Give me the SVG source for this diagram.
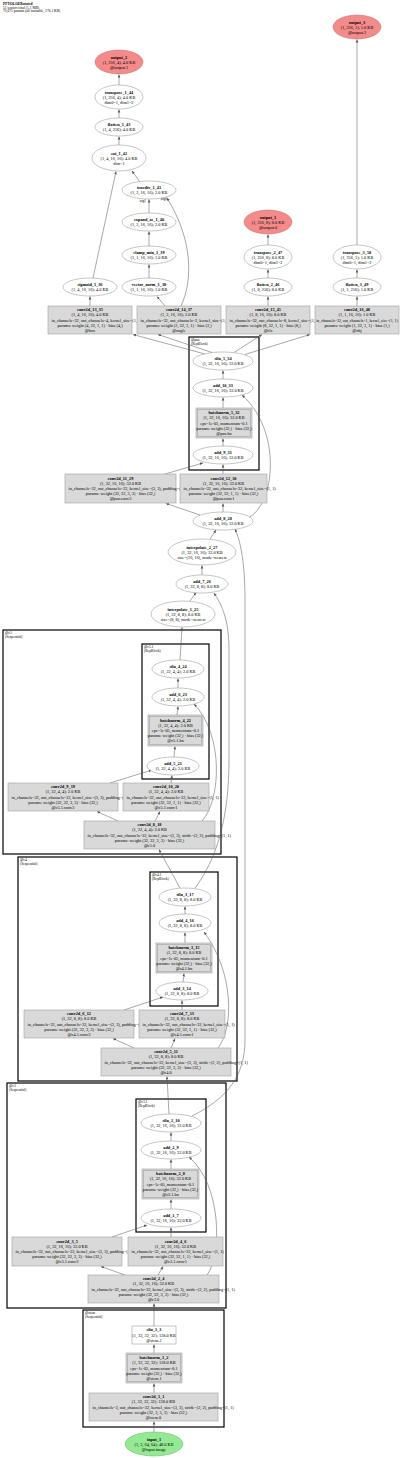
<svg xmlns="http://www.w3.org/2000/svg" width="400" height="1458" viewBox="0 0 400 1458">
<style>
.e{fill:#fff;stroke:#8c8c8c;stroke-width:0.5}
.c{fill:#d9d9d9;stroke:#a0a0a0;stroke-width:0.6}
.w{fill:#fff;stroke:#8c8c8c;stroke-width:0.5}
.o{fill:#f48a8a;stroke:#b86a6a;stroke-width:0.5}
.i{fill:#93ea93;stroke:#6aa86a;stroke-width:0.5}
.cl{fill:none;stroke:#000;stroke-width:1.2}
.t{font-family:"Liberation Serif",serif;font-size:4.3px;text-anchor:middle;fill:#000}
.s{text-anchor:start}
.b{font-weight:bold}
.lb{font-family:"Liberation Serif",serif;font-size:3.6px;fill:#000}
.ed path{stroke:#505050;stroke-width:0.5;fill:none;marker-end:url(#a)}
</style>
<defs>
<marker id="a" markerWidth="4" markerHeight="4" refX="3" refY="2" orient="auto" markerUnits="userSpaceOnUse"><path d="M0,0.7 L3,2 L0,3.3z" fill="#505050"/></marker>
</defs>
<rect width="400" height="1458" fill="#fff"/>
<g id="header">
<text class="lb b" x="3" y="4.8">PPYOLOERotated</text>
<text class="lb" x="3" y="8.6">51 tensors total (1.1 MB)</text>
<text class="lb" x="3" y="12.4">70,671 params (all trainable, 276.1 KB)</text>
</g>
<g id="clusters">
<g id="cl_pan"><rect class="cl" x="189" y="337" width="70" height="133"/><text class="lb" x="191" y="341">@pan</text><text class="lb" x="191" y="344.8">(RepBlock)</text></g>
<g id="cl_c5"><rect class="cl" x="3" y="630" width="218" height="224"/><text class="lb" x="5" y="634">@c5</text><text class="lb" x="5" y="637.8">(Sequential)</text></g>
<g id="cl_c5_1"><rect class="cl" x="142" y="644" width="67" height="135"/><text class="lb" x="144" y="648">@c5.1</text><text class="lb" x="144" y="651.8">(RepBlock)</text></g>
<g id="cl_c4"><rect class="cl" x="18" y="857" width="219" height="224"/><text class="lb" x="20" y="861">@c4</text><text class="lb" x="20" y="864.8">(Sequential)</text></g>
<g id="cl_c4_1"><rect class="cl" x="150" y="872" width="68" height="134"/><text class="lb" x="152" y="876">@c4.1</text><text class="lb" x="152" y="879.8">(RepBlock)</text></g>
<g id="cl_c3"><rect class="cl" x="7" y="1083" width="219" height="225"/><text class="lb" x="9" y="1087">@c3</text><text class="lb" x="9" y="1090.8">(Sequential)</text></g>
<g id="cl_c3_1"><rect class="cl" x="136" y="1099" width="70" height="133"/><text class="lb" x="138" y="1103">@c3.1</text><text class="lb" x="138" y="1106.8">(RepBlock)</text></g>
<g id="cl_stem"><rect class="cl" x="83" y="1310" width="141" height="117"/><text class="lb" x="85" y="1314">@stem</text><text class="lb" x="85" y="1317.8">(Sequential)</text></g>
</g>
<g id="connectors" class="ed">
<path d="M154,1432 L154,1421.5"/>
<path d="M154,1393 L154,1383.5"/>
<path d="M154,1353 L154,1344.5"/>
<path d="M154,1326 L154,1303.5"/>
<path d="M125,1275 L101,1266.5"/>
<path d="M158,1275 L163,1266.5"/>
<path d="M207,1275 C222,1255 222,1185 189,1157"/>
<path d="M112,1237 L147,1225"/>
<path d="M171,1237 L171,1227.5"/>
<path d="M171,1209 L171,1199.5"/>
<path d="M171,1169 L171,1159.5"/>
<path d="M171,1141 L171,1132.5"/>
<path d="M169,1114 L167,1076.5"/>
<path d="M192,1116 C228,1098 245,1075 245,1040 L245,600 C245,565 241,542 235,529"/>
<path d="M134,1048 L113,1038.5"/>
<path d="M171,1048 L175,1038.5"/>
<path d="M218,1048 C234,1028 234,972 204,932"/>
<path d="M124,1010 L163,997"/>
<path d="M182,1010 L182,1000.5"/>
<path d="M183,982 L184,973.5"/>
<path d="M185,943 L185,932.5"/>
<path d="M185,914 L185,906.5"/>
<path d="M180,888 L159,849.5"/>
<path d="M195,888 C216,860 229,820 229,760 L229,650 C229,620 222,605 214,593"/>
<path d="M118,821 L97,811.5"/>
<path d="M155,821 L160,811.5"/>
<path d="M202,821 C221,800 224,735 194,704"/>
<path d="M110,783 L152,770"/>
<path d="M171,783 L172,775.5"/>
<path d="M174,757 L175,746.5"/>
<path d="M177,715 L178,706.5"/>
<path d="M178,688 L178,678.5"/>
<path d="M180,660 L182,627.5"/>
<path d="M190,601 L196,592.5"/>
<path d="M202,575 L202,565.5"/>
<path d="M210,539 L216,530"/>
<path d="M200,515 L166,503.5"/>
<path d="M223,512 L223,503.5"/>
<path d="M250,517 C276,500 281,430 242,395"/>
<path d="M165,474 L203,463"/>
<path d="M223,474 L223,464.5"/>
<path d="M223,446 L223,438.5"/>
<path d="M223,408 L223,397.5"/>
<path d="M223,379 L223,370.5"/>
<path d="M205,354 L133,334.5"/>
<path d="M212,352.5 L158,334.5"/>
<path d="M234,352.5 L262,334.5"/>
<path d="M245,354.5 L310,334.5"/>
<path d="M90,306 L90,296.5"/>
<path d="M165,306 L157,296.5"/>
<path d="M181,306 C193,280 193,240 167,198"/>
<path d="M149,278 L149,264.5"/>
<path d="M149,246 L149,231.5"/>
<path d="M149,213 L149,199.5"/>
<path d="M140,182 L132,171"/>
<path d="M93,278 L116,171.5"/>
<path d="M119,145 L119,136.5"/>
<path d="M119,118 L119,109.5"/>
<path d="M119,85 L119,74.5"/>
<path d="M268,306 L268,296.5"/>
<path d="M268,278 L268,269.5"/>
<path d="M268,245 L268,234.5"/>
<path d="M357,306 L357,296.5"/>
<path d="M357,278 L357,269.5"/>
<path d="M357,245 L357,39.5"/>
<text class="lb" x="143" y="201.5" style="text-anchor:middle">arg1</text>
<text class="lb" x="164" y="199.5" style="text-anchor:middle">arg0</text>
</g>
<g id="output_3"><ellipse class="o" cx="357" cy="27" rx="24" ry="12"/><text class="t b" x="357" y="23.5">output_3</text><text class="t" x="357" y="28.5">(1, 256, 1); 1.0 KB</text><text class="t" x="357" y="33.5">@output.2</text></g>
<g id="output_2"><ellipse class="o" cx="119" cy="62" rx="24" ry="12"/><text class="t b" x="119" y="58.5">output_2</text><text class="t" x="119" y="63.5">(1, 256, 4); 4.0 KB</text><text class="t" x="119" y="68.5">@output.1</text></g>
<g id="transpose_1_44"><ellipse class="e" cx="119" cy="97" rx="24" ry="12"/><text class="t b" x="119" y="93.5">transpose_1_44</text><text class="t" x="119" y="98.5">(1, 256, 4); 4.0 KB</text><text class="t" x="119" y="103.5">dim0=1, dim1=2</text></g>
<g id="flatten_1_43"><ellipse class="e" cx="119" cy="127" rx="24" ry="9"/><text class="t b" x="119" y="125.8">flatten_1_43</text><text class="t" x="119" y="131.2">(1, 4, 256); 4.0 KB</text></g>
<g id="cat_1_42"><ellipse class="e" cx="119" cy="158" rx="27" ry="13"/><text class="t b" x="119" y="154.5">cat_1_42</text><text class="t" x="119" y="159.5">(1, 4, 16, 16); 4.0 KB</text><text class="t" x="119" y="164.5">dim=1</text></g>
<g id="truediv_1_41"><ellipse class="e" cx="149" cy="190" rx="27" ry="9"/><text class="t b" x="149" y="188.8">truediv_1_41</text><text class="t" x="149" y="194.2">(1, 2, 16, 16); 2.0 KB</text></g>
<g id="expand_as_1_40"><ellipse class="e" cx="149" cy="222" rx="27" ry="9"/><text class="t b" x="149" y="220.8">expand_as_1_40</text><text class="t" x="149" y="226.2">(1, 2, 16, 16); 2.0 KB</text></g>
<g id="output_1"><ellipse class="o" cx="268" cy="222" rx="24" ry="12"/><text class="t b" x="268" y="218.5">output_1</text><text class="t" x="268" y="223.5">(1, 256, 8); 8.0 KB</text><text class="t" x="268" y="228.5">@output.0</text></g>
<g id="clamp_min_1_39"><ellipse class="e" cx="149" cy="255" rx="27" ry="9"/><text class="t b" x="149" y="253.8">clamp_min_1_39</text><text class="t" x="149" y="259.2">(1, 1, 16, 16); 1.0 KB</text></g>
<g id="transpose_2_47"><ellipse class="e" cx="268" cy="257" rx="24" ry="12"/><text class="t b" x="268" y="253.5">transpose_2_47</text><text class="t" x="268" y="258.5">(1, 256, 8); 8.0 KB</text><text class="t" x="268" y="263.5">dim0=1, dim1=2</text></g>
<g id="transpose_3_50"><ellipse class="e" cx="357" cy="257" rx="24" ry="12"/><text class="t b" x="357" y="253.5">transpose_3_50</text><text class="t" x="357" y="258.5">(1, 256, 1); 1.0 KB</text><text class="t" x="357" y="263.5">dim0=1, dim1=2</text></g>
<g id="sigmoid_1_36"><ellipse class="e" cx="90" cy="287" rx="27" ry="9"/><text class="t b" x="90" y="285.8">sigmoid_1_36</text><text class="t" x="90" y="291.2">(1, 4, 16, 16); 4.0 KB</text></g>
<g id="vector_norm_1_38"><ellipse class="e" cx="149" cy="287" rx="27" ry="9"/><text class="t b" x="149" y="285.8">vector_norm_1_38</text><text class="t" x="149" y="291.2">(1, 1, 16, 16); 1.0 KB</text></g>
<g id="flatten_2_46"><ellipse class="e" cx="268" cy="287" rx="24" ry="9"/><text class="t b" x="268" y="285.8">flatten_2_46</text><text class="t" x="268" y="291.2">(1, 8, 256); 8.0 KB</text></g>
<g id="flatten_3_49"><ellipse class="e" cx="357" cy="287" rx="24" ry="9"/><text class="t b" x="357" y="285.8">flatten_3_49</text><text class="t" x="357" y="291.2">(1, 1, 256); 1.0 KB</text></g>
<g id="conv2d_13_35"><rect class="c" x="48" y="306" width="84" height="28"/><text class="t b" x="90" y="311.1">conv2d_13_35</text><text class="t" x="90" y="316.3">(1, 4, 16, 16); 4.0 KB</text><text class="t s" x="51.5" y="321.5">in_channels=32, out_channels=4, kernel_size=(1, 1)</text><text class="t" x="90" y="326.7">params: weight (4, 32, 1, 1) · bias (4,)</text><text class="t" x="90" y="331.9">@box</text></g>
<g id="conv2d_14_37"><rect class="c" x="137" y="306" width="84" height="28"/><text class="t b" x="179" y="311.1">conv2d_14_37</text><text class="t" x="179" y="316.3">(1, 2, 16, 16); 2.0 KB</text><text class="t s" x="140.5" y="321.5">in_channels=32, out_channels=2, kernel_size=(1, 1)</text><text class="t" x="179" y="326.7">params: weight (2, 32, 1, 1) · bias (2,)</text><text class="t" x="179" y="331.9">@angle</text></g>
<g id="conv2d_15_45"><rect class="c" x="226" y="306" width="84" height="28"/><text class="t b" x="268" y="311.1">conv2d_15_45</text><text class="t" x="268" y="316.3">(1, 8, 16, 16); 8.0 KB</text><text class="t s" x="229.5" y="321.5">in_channels=32, out_channels=8, kernel_size=(1, 1)</text><text class="t" x="268" y="326.7">params: weight (8, 32, 1, 1) · bias (8,)</text><text class="t" x="268" y="331.9">@cls</text></g>
<g id="conv2d_16_48"><rect class="c" x="315" y="306" width="84" height="28"/><text class="t b" x="357" y="311.1">conv2d_16_48</text><text class="t" x="357" y="316.3">(1, 1, 16, 16); 1.0 KB</text><text class="t" x="357" y="321.5" style="font-size:3.9px">in_channels=32, out_channels=1, kernel_size=(1, 1)</text><text class="t" x="357" y="326.7">params: weight (1, 32, 1, 1) · bias (1,)</text><text class="t" x="357" y="331.9">@obj</text></g>
<g id="silu_5_34"><ellipse class="e" cx="223" cy="361" rx="30" ry="9"/><text class="t b" x="223" y="359.8">silu_5_34</text><text class="t" x="223" y="365.2">(1, 32, 16, 16); 32.0 KB</text></g>
<g id="add_10_33"><ellipse class="e" cx="223" cy="388" rx="30" ry="9"/><text class="t b" x="223" y="386.8">add_10_33</text><text class="t" x="223" y="392.2">(1, 32, 16, 16); 32.0 KB</text></g>
<g id="batchnorm_5_32"><rect class="c" x="196" y="408" width="56" height="30"/><rect class="c" x="197.5" y="409.5" width="53" height="27"/><text class="t b" x="224" y="414.1">batchnorm_5_32</text><text class="t" x="224" y="419.3">(1, 32, 16, 16); 32.0 KB</text><text class="t" x="224" y="424.5">eps=1e-05, momentum=0.1</text><text class="t" x="224" y="429.7">params: weight (32,) · bias (32,)</text><text class="t" x="224" y="434.9">@pan.bn</text></g>
<g id="add_9_31"><ellipse class="e" cx="223" cy="455" rx="30" ry="9"/><text class="t b" x="223" y="453.8">add_9_31</text><text class="t" x="223" y="459.2">(1, 32, 16, 16); 32.0 KB</text></g>
<g id="conv2d_11_29"><rect class="c" x="65" y="474" width="111" height="29"/><text class="t b" x="120.5" y="479.6">conv2d_11_29</text><text class="t" x="120.5" y="484.8">(1, 32, 16, 16); 32.0 KB</text><text class="t s" x="68.5" y="490">in_channels=32, out_channels=32, kernel_size=(3, 3), padding=(1, 1)</text><text class="t" x="120.5" y="495.2">params: weight (32, 32, 3, 3) · bias (32,)</text><text class="t" x="120.5" y="500.4">@pan.conv3</text></g>
<g id="conv2d_12_30"><rect class="c" x="180" y="474" width="87" height="29"/><text class="t b" x="223.5" y="479.6">conv2d_12_30</text><text class="t" x="223.5" y="484.8">(1, 32, 16, 16); 32.0 KB</text><text class="t s" x="183.5" y="490">in_channels=32, out_channels=32, kernel_size=(1, 1)</text><text class="t" x="223.5" y="495.2">params: weight (32, 32, 1, 1) · bias (32,)</text><text class="t" x="223.5" y="500.4">@pan.conv1</text></g>
<g id="add_8_28"><ellipse class="e" cx="223" cy="521" rx="30" ry="9"/><text class="t b" x="223" y="519.8">add_8_28</text><text class="t" x="223" y="525.2">(1, 32, 16, 16); 32.0 KB</text></g>
<g id="interpolate_2_27"><ellipse class="e" cx="202" cy="552" rx="34" ry="13"/><text class="t b" x="202" y="548.5">interpolate_2_27</text><text class="t" x="202" y="553.5">(1, 32, 16, 16); 32.0 KB</text><text class="t" x="202" y="558.5">size=(16, 16), mode=nearest</text></g>
<g id="add_7_26"><ellipse class="e" cx="202" cy="584" rx="26" ry="9"/><text class="t b" x="202" y="582.8">add_7_26</text><text class="t" x="202" y="588.2">(1, 32, 8, 8); 8.0 KB</text></g>
<g id="interpolate_1_25"><ellipse class="e" cx="183" cy="614" rx="32" ry="13"/><text class="t b" x="183" y="610.5">interpolate_1_25</text><text class="t" x="183" y="615.5">(1, 32, 8, 8); 8.0 KB</text><text class="t" x="183" y="620.5">size=(8, 8), mode=nearest</text></g>
<g id="silu_4_24"><ellipse class="e" cx="178" cy="669" rx="26" ry="9"/><text class="t b" x="178" y="667.8">silu_4_24</text><text class="t" x="178" y="673.2">(1, 32, 4, 4); 2.0 KB</text></g>
<g id="add_6_23"><ellipse class="e" cx="178" cy="697" rx="26" ry="9"/><text class="t b" x="178" y="695.8">add_6_23</text><text class="t" x="178" y="701.2">(1, 32, 4, 4); 2.0 KB</text></g>
<g id="batchnorm_4_22"><rect class="c" x="148" y="715" width="55" height="31"/><rect class="c" x="149.5" y="716.5" width="52" height="28"/><text class="t b" x="175.5" y="721.6">batchnorm_4_22</text><text class="t" x="175.5" y="726.8">(1, 32, 4, 4); 2.0 KB</text><text class="t" x="175.5" y="732">eps=1e-05, momentum=0.1</text><text class="t" x="175.5" y="737.2">params: weight (32,) · bias (32,)</text><text class="t" x="175.5" y="742.4">@c5.1.bn</text></g>
<g id="add_5_21"><ellipse class="e" cx="173" cy="766" rx="26" ry="9"/><text class="t b" x="173" y="764.8">add_5_21</text><text class="t" x="173" y="770.2">(1, 32, 4, 4); 2.0 KB</text></g>
<g id="conv2d_9_19"><rect class="c" x="8" y="783" width="110" height="28"/><text class="t b" x="63" y="788.1">conv2d_9_19</text><text class="t" x="63" y="793.3">(1, 32, 4, 4); 2.0 KB</text><text class="t s" x="11.5" y="798.5">in_channels=32, out_channels=32, kernel_size=(3, 3), padding=(1, 1)</text><text class="t" x="63" y="803.7">params: weight (32, 32, 3, 3) · bias (32,)</text><text class="t" x="63" y="808.9">@c5.1.conv3</text></g>
<g id="conv2d_10_20"><rect class="c" x="123" y="783" width="86" height="28"/><text class="t b" x="166" y="788.1">conv2d_10_20</text><text class="t" x="166" y="793.3">(1, 32, 4, 4); 2.0 KB</text><text class="t s" x="126.5" y="798.5">in_channels=32, out_channels=32, kernel_size=(1, 1)</text><text class="t" x="166" y="803.7">params: weight (32, 32, 1, 1) · bias (32,)</text><text class="t" x="166" y="808.9">@c5.1.conv1</text></g>
<g id="conv2d_8_18"><rect class="c" x="84" y="821" width="131" height="28"/><text class="t b" x="149.5" y="826.1">conv2d_8_18</text><text class="t" x="149.5" y="831.3">(1, 32, 4, 4); 2.0 KB</text><text class="t s" x="87.5" y="836.5">in_channels=32, out_channels=32, kernel_size=(3, 3), stride=(2, 2), padding=(1, 1)</text><text class="t" x="149.5" y="841.7">params: weight (32, 32, 3, 3) · bias (32,)</text><text class="t" x="149.5" y="846.9">@c5.0</text></g>
<g id="silu_3_17"><ellipse class="e" cx="185" cy="897" rx="26" ry="9"/><text class="t b" x="185" y="895.8">silu_3_17</text><text class="t" x="185" y="901.2">(1, 32, 8, 8); 8.0 KB</text></g>
<g id="add_4_16"><ellipse class="e" cx="185" cy="923" rx="26" ry="9"/><text class="t b" x="185" y="921.8">add_4_16</text><text class="t" x="185" y="927.2">(1, 32, 8, 8); 8.0 KB</text></g>
<g id="batchnorm_3_15"><rect class="c" x="156" y="943" width="56" height="30"/><rect class="c" x="157.5" y="944.5" width="53" height="27"/><text class="t b" x="184" y="949.1">batchnorm_3_15</text><text class="t" x="184" y="954.3">(1, 32, 8, 8); 8.0 KB</text><text class="t" x="184" y="959.5">eps=1e-05, momentum=0.1</text><text class="t" x="184" y="964.7">params: weight (32,) · bias (32,)</text><text class="t" x="184" y="969.9">@c4.1.bn</text></g>
<g id="add_3_14"><ellipse class="e" cx="182" cy="991" rx="26" ry="9"/><text class="t b" x="182" y="989.8">add_3_14</text><text class="t" x="182" y="995.2">(1, 32, 8, 8); 8.0 KB</text></g>
<g id="conv2d_6_12"><rect class="c" x="24" y="1010" width="110" height="28"/><text class="t b" x="79" y="1015.1">conv2d_6_12</text><text class="t" x="79" y="1020.3">(1, 32, 8, 8); 8.0 KB</text><text class="t s" x="27.5" y="1025.5">in_channels=32, out_channels=32, kernel_size=(3, 3), padding=(1, 1)</text><text class="t" x="79" y="1030.7">params: weight (32, 32, 3, 3) · bias (32,)</text><text class="t" x="79" y="1035.9">@c4.1.conv3</text></g>
<g id="conv2d_7_13"><rect class="c" x="139" y="1010" width="86" height="28"/><text class="t b" x="182" y="1015.1">conv2d_7_13</text><text class="t" x="182" y="1020.3">(1, 32, 8, 8); 8.0 KB</text><text class="t s" x="142.5" y="1025.5">in_channels=32, out_channels=32, kernel_size=(1, 1)</text><text class="t" x="182" y="1030.7">params: weight (32, 32, 1, 1) · bias (32,)</text><text class="t" x="182" y="1035.9">@c4.1.conv1</text></g>
<g id="conv2d_5_11"><rect class="c" x="101" y="1048" width="130" height="28"/><text class="t b" x="166" y="1053.1">conv2d_5_11</text><text class="t" x="166" y="1058.3">(1, 32, 8, 8); 8.0 KB</text><text class="t s" x="104.5" y="1063.5">in_channels=32, out_channels=32, kernel_size=(3, 3), stride=(2, 2), padding=(1, 1)</text><text class="t" x="166" y="1068.7">params: weight (32, 32, 3, 3) · bias (32,)</text><text class="t" x="166" y="1073.9">@c4.0</text></g>
<g id="silu_2_10"><ellipse class="e" cx="171" cy="1123" rx="30" ry="9"/><text class="t b" x="171" y="1121.8">silu_2_10</text><text class="t" x="171" y="1127.2">(1, 32, 16, 16); 32.0 KB</text></g>
<g id="add_2_9"><ellipse class="e" cx="171" cy="1150" rx="30" ry="9"/><text class="t b" x="171" y="1148.8">add_2_9</text><text class="t" x="171" y="1154.2">(1, 32, 16, 16); 32.0 KB</text></g>
<g id="batchnorm_2_8"><rect class="c" x="142" y="1169" width="57" height="30"/><rect class="c" x="143.5" y="1170.5" width="54" height="27"/><text class="t b" x="170.5" y="1175.1">batchnorm_2_8</text><text class="t" x="170.5" y="1180.3">(1, 32, 16, 16); 32.0 KB</text><text class="t" x="170.5" y="1185.5">eps=1e-05, momentum=0.1</text><text class="t" x="170.5" y="1190.7">params: weight (32,) · bias (32,)</text><text class="t" x="170.5" y="1195.9">@c3.1.bn</text></g>
<g id="add_1_7"><ellipse class="e" cx="171" cy="1218" rx="30" ry="9"/><text class="t b" x="171" y="1216.8">add_1_7</text><text class="t" x="171" y="1222.2">(1, 32, 16, 16); 32.0 KB</text></g>
<g id="conv2d_3_5"><rect class="c" x="12" y="1237" width="110" height="29"/><text class="t b" x="67" y="1242.6">conv2d_3_5</text><text class="t" x="67" y="1247.8">(1, 32, 16, 16); 32.0 KB</text><text class="t s" x="15.5" y="1253">in_channels=32, out_channels=32, kernel_size=(3, 3), padding=(1, 1)</text><text class="t" x="67" y="1258.2">params: weight (32, 32, 3, 3) · bias (32,)</text><text class="t" x="67" y="1263.4">@c3.1.conv3</text></g>
<g id="conv2d_4_6"><rect class="c" x="128" y="1237" width="95" height="29"/><text class="t b" x="175.5" y="1242.6">conv2d_4_6</text><text class="t" x="175.5" y="1247.8">(1, 32, 16, 16); 32.0 KB</text><text class="t s" x="131.5" y="1253">in_channels=32, out_channels=32, kernel_size=(1, 1)</text><text class="t" x="175.5" y="1258.2">params: weight (32, 32, 1, 1) · bias (32,)</text><text class="t" x="175.5" y="1263.4">@c3.1.conv1</text></g>
<g id="conv2d_2_4"><rect class="c" x="88" y="1275" width="131" height="28"/><text class="t b" x="153.5" y="1280.1">conv2d_2_4</text><text class="t" x="153.5" y="1285.3">(1, 32, 16, 16); 32.0 KB</text><text class="t s" x="91.5" y="1290.5">in_channels=32, out_channels=32, kernel_size=(3, 3), stride=(2, 2), padding=(1, 1)</text><text class="t" x="153.5" y="1295.7">params: weight (32, 32, 3, 3) · bias (32,)</text><text class="t" x="153.5" y="1300.9">@c3.0</text></g>
<g id="silu_1_3"><rect class="w" x="132" y="1326" width="44" height="18"/><text class="t b" x="154" y="1331.3">silu_1_3</text><text class="t" x="154" y="1336.5">(1, 32, 32, 32); 128.0 KB</text><text class="t" x="154" y="1341.7">@stem.2</text></g>
<g id="batchnorm_1_2"><rect class="c" x="126" y="1353" width="56" height="30"/><rect class="c" x="127.5" y="1354.5" width="53" height="27"/><text class="t b" x="154" y="1359.1">batchnorm_1_2</text><text class="t" x="154" y="1364.3">(1, 32, 32, 32); 128.0 KB</text><text class="t" x="154" y="1369.5">eps=1e-05, momentum=0.1</text><text class="t" x="154" y="1374.7">params: weight (32,) · bias (32,)</text><text class="t" x="154" y="1379.9">@stem.1</text></g>
<g id="conv2d_1_1"><rect class="c" x="89" y="1393" width="129" height="28"/><text class="t b" x="153.5" y="1398.1">conv2d_1_1</text><text class="t" x="153.5" y="1403.3">(1, 32, 32, 32); 128.0 KB</text><text class="t s" x="92.5" y="1408.5">in_channels=3, out_channels=32, kernel_size=(3, 3), stride=(2, 2), padding=(1, 1)</text><text class="t" x="153.5" y="1413.7">params: weight (32, 3, 3, 3) · bias (32,)</text><text class="t" x="153.5" y="1418.9">@stem.0</text></g>
<g id="input_1"><ellipse class="i" cx="154" cy="1444" rx="29" ry="12"/><text class="t b" x="154" y="1440.5">input_1</text><text class="t" x="154" y="1445.5">(1, 3, 64, 64); 48.0 KB</text><text class="t" x="154" y="1450.5">@input.image</text></g>
</svg>
